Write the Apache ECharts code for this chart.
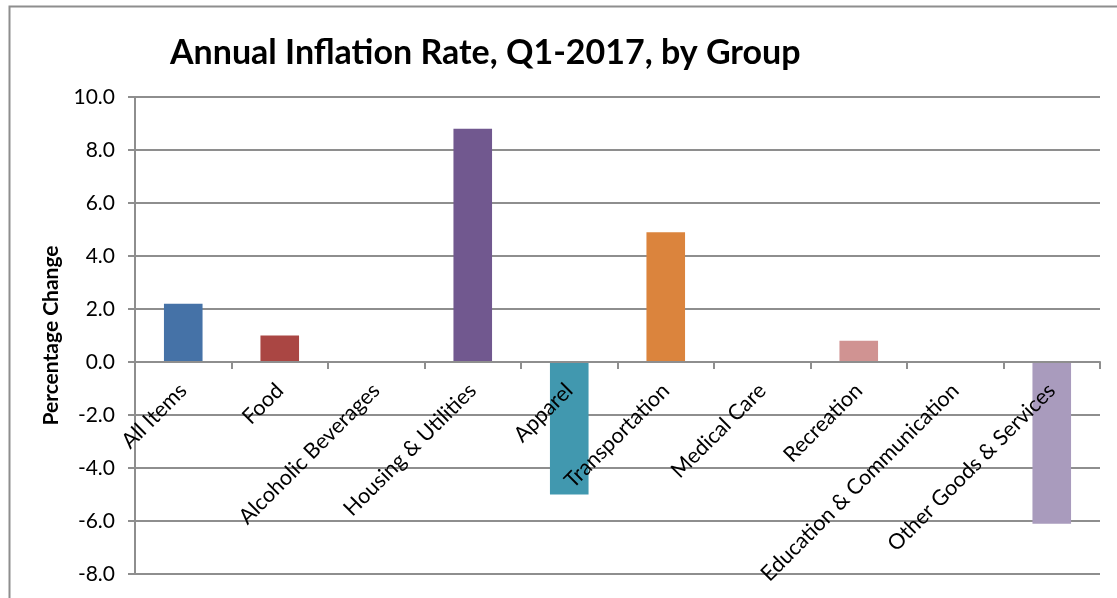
<!DOCTYPE html>
<html>
<head>
<meta charset="utf-8">
<script src="https://cdn.jsdelivr.net/npm/echarts@6/dist/echarts.min.js"></script>
<style>
  html, body { margin: 0; padding: 0; background: #fff; }
  #chart { width: 1117px; height: 598px; }
</style>
</head>
<body>
<div id="chart"></div>
<script>
var groups = ['All Items', 'Food', 'Alcoholic Beverages', 'Housing & Utilities', 'Apparel',
    'Transportation', 'Medical Care', 'Recreation', 'Education & Communication', 'Other Goods & Services'];
var rates = [2.2, 1.0, 0, 8.8, -5.0, 4.9, 0, 0.8, 0, -6.1];
var barColors = ['#4572A7', '#AA4643', '#89A54E', '#71588F', '#4198AF',
    '#DB843D', '#93A9CF', '#D09392', '#B9CD96', '#A99BBD'];

var myChart = echarts.init(document.getElementById('chart'));
var font = 'Lato, "Open Sans", sans-serif';
var grey = '#8e8e8e';

// grid: top 97, height 477, range -8..10 -> zero sits 8/18 of the height above the bottom
var zeroOffset = -477 * 8 / 18;

var option = {
    animation: false,
    title: {
        text: 'Annual Inflation Rate, Q1-2017, by Group',
        left: 165,
        top: 31,
        textStyle: { fontFamily: font, fontWeight: 'bold', fontSize: 34, color: '#000' }
    },
    graphic: [{
        type: 'rect',
        left: 7,
        top: 4,
        shape: { width: 1300, height: 800 },
        style: { fill: 'none', stroke: grey, lineWidth: 2 },
        silent: true
    }],
    grid: { left: 135, right: 17, top: 97, bottom: 24, containLabel: false, outerBoundsMode: 'none' },
    xAxis: {
        type: 'category',
        data: groups,
        z: 5,
        offset: zeroOffset,
        axisLine: { onZero: false, lineStyle: { color: grey, width: 2 } },
        axisTick: { show: true, length: 7, lineStyle: { color: grey, width: 2 } },
        axisLabel: {
            rotate: 45, interval: 0, margin: 25,
            fontFamily: font, fontSize: 21.5, color: '#000'
        },
        splitLine: { show: false }
    },
    yAxis: {
        type: 'value',
        min: -8, max: 10, interval: 2,
        name: 'Percentage Change',
        nameLocation: 'middle',
        nameGap: 73,
        nameTextStyle: { fontFamily: font, fontWeight: 'bold', fontSize: 21, color: '#000' },
        axisLine: { show: true, lineStyle: { color: grey, width: 2 } },
        axisTick: { show: true, length: 7, lineStyle: { color: grey, width: 2 } },
        axisLabel: {
            margin: 20, fontFamily: font, fontSize: 21, color: '#000',
            formatter: function (v) { return v.toFixed(1); }
        },
        splitLine: { show: true, lineStyle: { color: grey, width: 2 } }
    },
    series: [{
        type: 'bar',
        barWidth: '40%',
        data: rates.map(function (v, i) {
            return { value: v, itemStyle: { color: barColors[i] } };
        })
    }]
};
myChart.setOption(option);
</script>
</body>
</html>
